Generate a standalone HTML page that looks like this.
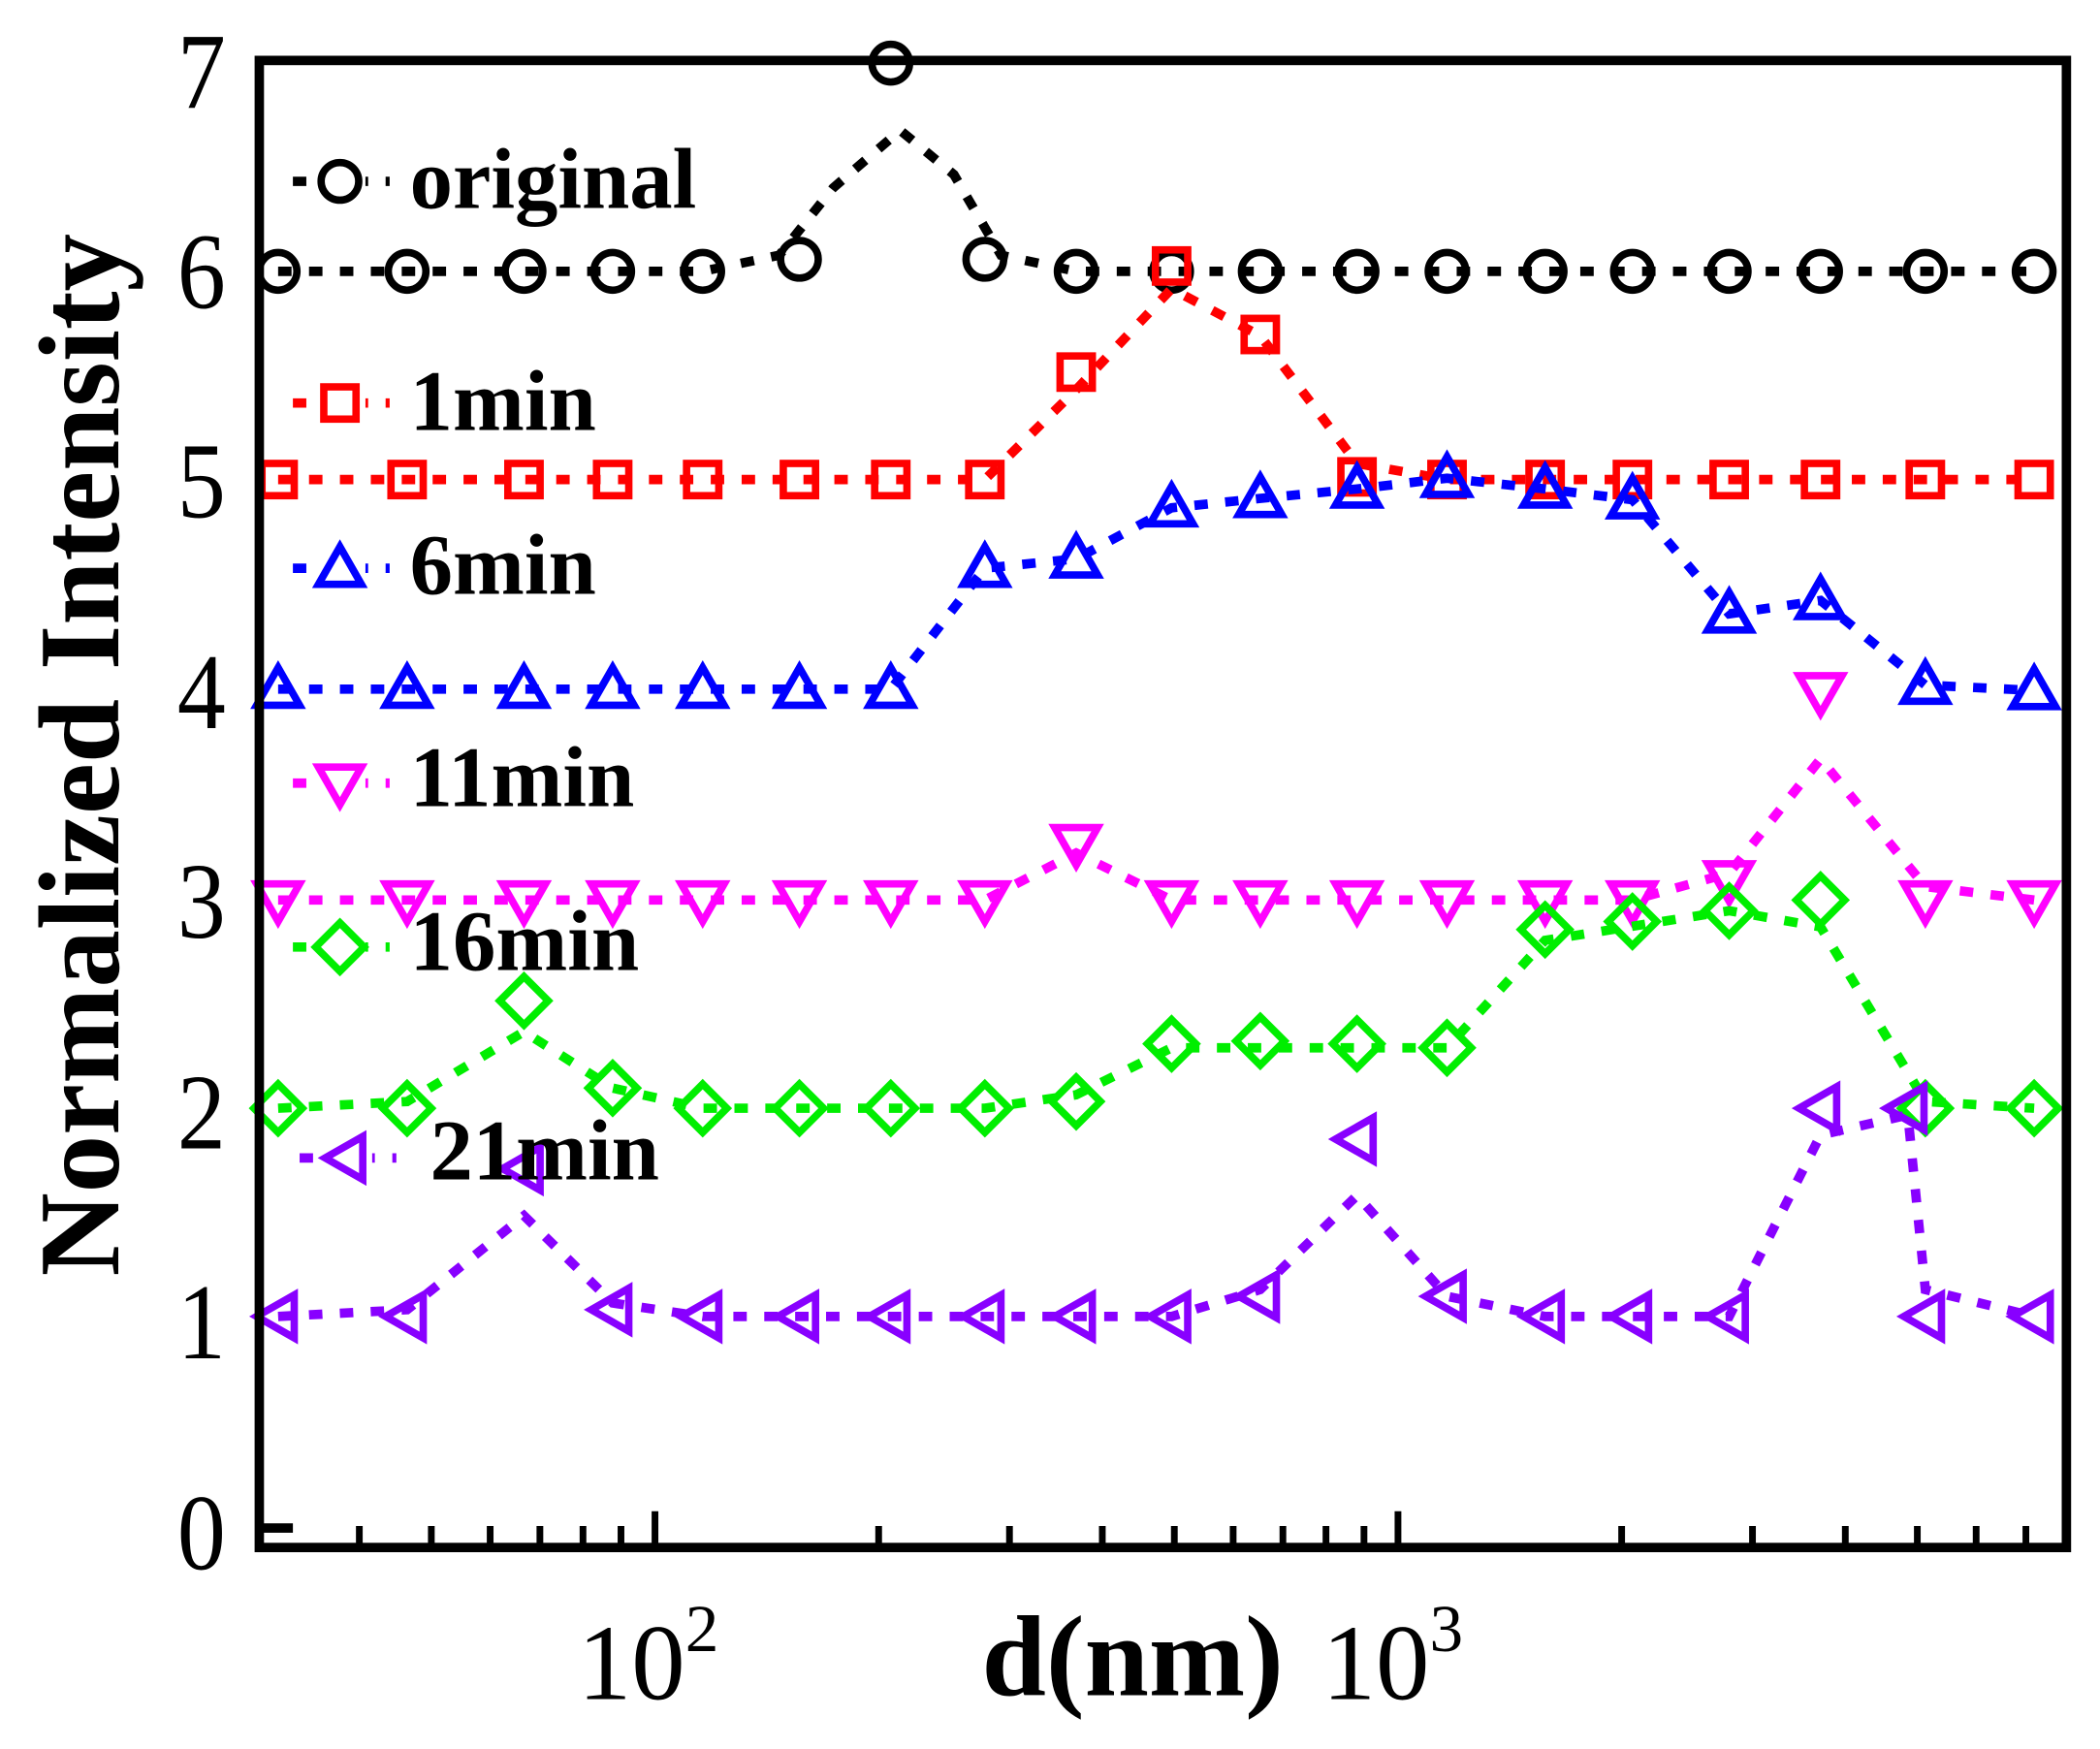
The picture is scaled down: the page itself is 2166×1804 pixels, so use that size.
<!DOCTYPE html>
<html><head><style>html,body{margin:0;padding:0;background:#fff}svg{display:block}</style></head>
<body>
<svg id="s" width="2166" height="1804" viewBox="0 0 1563 1302" preserveAspectRatio="none" xmlns="http://www.w3.org/2000/svg" font-family="Liberation Serif, serif">
<rect x="0" y="0" width="1563" height="1302" fill="#fff"/>
<g id="g"></g>
<rect x="193" y="45" width="1345" height="1107" fill="none" stroke="#000" stroke-width="7"/>
<g fill="#000" font-size="80" text-anchor="end">
<g transform="translate(168,0) scale(0.9,1)">
<text x="0" y="1168">0</text><text x="0" y="1011">1</text><text x="0" y="855">2</text><text x="0" y="698">3</text><text x="0" y="542">4</text><text x="0" y="385">5</text><text x="0" y="229">6</text><text x="0" y="80">7</text>
</g>
</g>
<rect x="196" y="1134" width="22" height="7" fill="#000"/>
<g font-size="80" fill="#000">
<text x="430" y="1265">10<tspan font-size="50" dy="-36">2</tspan></text>
<text x="984" y="1265">10<tspan font-size="50" dy="-36">3</tspan></text>
<text x="843" y="1262" font-weight="bold" text-anchor="middle" font-size="86">d(nm)</text>
<text transform="translate(88,562) rotate(-90)" font-weight="bold" text-anchor="middle" font-size="86">Normalized Intensity</text>
</g>
<g font-weight="bold" font-size="64" fill="#000">
<text x="305" y="155">original</text>
<text x="305" y="320">1min</text>
<text x="305" y="442">6min</text>
<text x="305" y="600">11min</text>
<text x="305" y="722">16min</text>
<text x="320" y="878">21min</text>
</g>
</svg>
<script>
var g=document.getElementById('g'),h='';
var X=function(v){return 487+553*(Math.log10(v)-2)};
[40,50,60,70,80,90,200,300,400,500,600,700,800,900,2000,3000,4000,5000,6000,7000].forEach(function(v){var x=X(v);if(x>198&&x<1533)h+='<rect x="'+(x-2)+'" y="1136" width="5" height="14" fill="#000"/>';});
[100,1000].forEach(function(v){var x=X(v);h+='<rect x="'+(x-2)+'" y="1125" width="5" height="25" fill="#000"/>';});
var xs=[207,303,390,456,523,595,663,733,801,872,938,1010,1077,1150,1215,1287,1355,1433,1514];
var SW=5.5;
function mk(t,x,y,c){var r=14;
 if(t=='o')return '<circle cx="'+x+'" cy="'+y+'" r="'+r+'" fill="none" stroke="'+c+'" stroke-width="'+SW+'"/>';
 if(t=='s')return '<rect x="'+(x-12)+'" y="'+(y-12)+'" width="24" height="24" fill="none" stroke="'+c+'" stroke-width="'+SW+'"/>';
 var p;
 if(t=='u')p=[[x,y-16],[x+16,y+12],[x-16,y+12]];
 if(t=='d')p=[[x,y+16],[x+16,y-12],[x-16,y-12]];
 if(t=='D')p=[[x,y-18],[x+18,y],[x,y+18],[x-18,y]];
 if(t=='l')p=[[x-16,y],[x+12,y-16],[x+12,y+16]];
 return '<polygon points="'+p.map(function(a){return a.join(',')}).join(' ')+'" fill="none" stroke="'+c+'" stroke-width="'+SW+'"/>';}
function line(pts,c){return '<polyline points="'+pts.map(function(a){return a.join(',')}).join(' ')+'" fill="none" stroke="'+c+'" stroke-width="7" stroke-dasharray="10 13"/>';}
var S=[
 {c:'#000',t:'o',y:[202,202,202,202,202,193,47,193,202,202,202,202,202,202,202,202,202,202,202],
  L:[[207,202],[523,202],[580,190],[620,140],[670,97],[710,130],[745,190],[801,202],[1514,202]],leg:[135,253]},
 {c:'#f00',t:'s',y:[357,357,357,357,357,357,357,357,277,198,249,355,357,357,357,357,357,357,357],
  L:[[207,357],[733,357],[801,290],[872,215],[938,250],[1010,345],[1077,357],[1514,357]],leg:[300,253]},
 {c:'#00f',t:'u',y:[513,513,513,513,513,513,513,423,416,378,371,364,356,364,372,457,447,510,514],leg:[423,253]},
 {c:'#f0f',t:'d',y:[670,670,670,670,670,670,670,670,628,670,670,670,670,670,670,655,515,670,670],
  L:[[207,670],[733,670],[801,635],[872,670],[1215,670],[1287,650],[1355,565],[1433,660],[1514,670]],leg:[583,253]},
 {c:'#0e0',t:'D',y:[825,825,745,810,825,825,825,825,820,777,775,777,780,692,686,678,670,825,825],
  L:[[207,825],[303,820],[390,768],[456,810],[523,825],[733,825],[801,815],[872,780],[1077,780],[1150,700],[1287,678],[1355,690],[1433,820],[1514,825]],leg:[705,253]},
 {c:'#80f',t:'l',y:[980,980,870,975,980,980,980,980,980,980,965,848,965,980,980,980,825,825,980],
  L:[[207,980],[303,975],[390,905],[456,970],[523,980],[872,980],[938,960],[1010,890],[1077,965],[1150,980],[1287,980],[1355,845],[1420,830],[1433,960],[1514,980]],leg:[862,258]}
];
S.forEach(function(s){
 var L=s.L||xs.map(function(x,i){return [x,s.y[i]]});
 h+=line(L,s.c);
 xs.forEach(function(x,i){var xx=x;if(s.t=='l'&&i==17)xx=1420;h+=mk(s.t,xx,s.y[i],s.c);});
 if(s.t=='l')h+=mk('l',1433,980,s.c);
 var ly=s.leg[0],lx=s.leg[1];
 h+=line([[lx-35,ly],[lx+37,ly]],s.c);
 h+='<rect x="'+(lx-19)+'" y="'+(ly-17)+'" width="38" height="34" fill="#fff"/>';
 h+=mk(s.t,lx,ly,s.c);
});
g.innerHTML=h;
</script>
</body></html>
